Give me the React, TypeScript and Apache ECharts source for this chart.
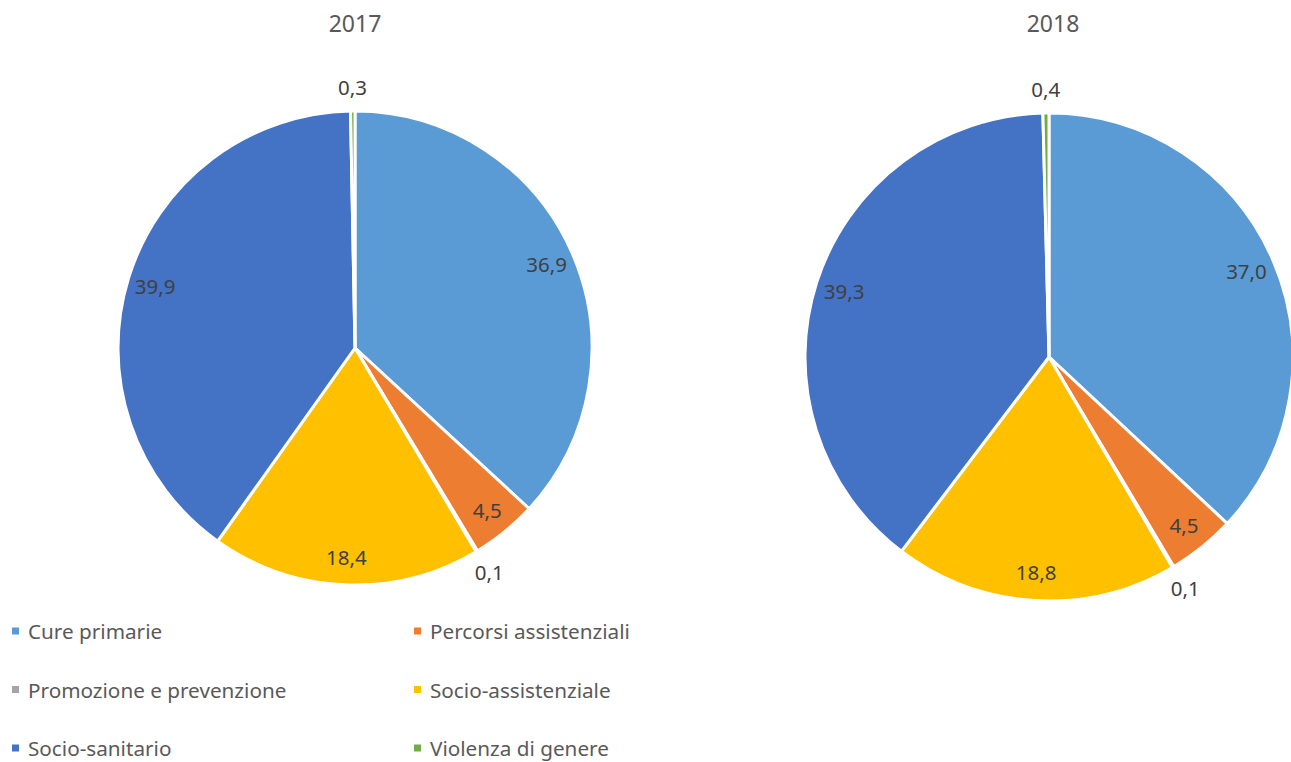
import React, { useEffect, useRef } from "react";
import * as echarts from "echarts";

const categories = [
  "Cure primarie",
  "Percorsi assistenziali",
  "Promozione e prevenzione",
  "Socio-assistenziale",
  "Socio-sanitario",
  "Violenza di genere",
];
const values2017 = [36.9, 4.5, 0.1, 18.4, 39.9, 0.3];
const values2018 = [37.0, 4.5, 0.1, 18.8, 39.3, 0.4];
const years = ["2017", "2018"];
const colors = ["#5B9BD5", "#ED7D31", "#A5A5A5", "#FFC000", "#4472C4", "#70AD47"];
const legendCol1 = [categories[0], categories[2], categories[4]];
const legendCol2 = [categories[1], categories[3], categories[5]];

const FONT = "'Noto Sans', 'Open Sans', sans-serif";
const fmt = (v: number) => v.toFixed(1).replace(".", ",");

function pieSeries(values: number[], center: number[], r: number) {
  const mainData = categories.map((name, i) => ({
    name,
    value: values[i],
    itemStyle: { color: colors[i] },
  }));
  const labelStyle = {
    fontFamily: FONT,
    fontSize: 20.5,
    color: "#404040",
    formatter: (p: any) => fmt(p.value),
  };
  const inner = categories.map((name, i) => ({
    name,
    value: values[i],
    label: { show: values[i] >= 1 },
  }));
  const outer = categories.map((name, i) => ({
    name,
    value: values[i],
    label: { show: values[i] < 1 },
  }));
  return [
    {
      type: "pie",
      center,
      radius: [0, r],
      startAngle: 90,
      clockwise: true,
      data: mainData,
      label: { show: false },
      labelLine: { show: false },
      itemStyle: { borderColor: "#ffffff", borderWidth: 3 },
      emphasis: { disabled: true },
    },
    {
      type: "pie",
      center,
      radius: [r * 0.74, r],
      startAngle: 90,
      clockwise: true,
      silent: true,
      data: inner,
      itemStyle: { color: "transparent", borderWidth: 0 },
      label: { position: "inside", ...labelStyle },
      labelLine: { show: false },
      emphasis: { disabled: true },
    },
    {
      type: "pie",
      center,
      radius: [r + 10, r + 32],
      startAngle: 90,
      clockwise: true,
      silent: true,
      data: outer,
      itemStyle: { color: "transparent", borderWidth: 0 },
      label: { position: "inside", ...labelStyle },
      labelLine: { show: false },
      emphasis: { disabled: true },
    },
  ];
}

export default function App() {
  const ref = useRef<HTMLDivElement>(null);
  useEffect(() => {
    if (!ref.current) return;
    const chart = echarts.init(ref.current, null, { renderer: "svg" });
    const legendBase = {
      orient: "vertical",
      top: 619,
      padding: 0,
      itemWidth: 9,
      itemHeight: 9,
      icon: "rect",
      itemGap: 34.5,
      selectedMode: false,
      textStyle: {
        fontFamily: FONT,
        fontSize: 20.7,
        color: "#595959",
        lineHeight: 24,
        padding: [0, 0, 0, 3],
      },
    };
    chart.setOption({
      animation: false,
      backgroundColor: "#ffffff",
      color: colors,
      graphic: [
        {
          type: "text",
          x: 355,
          y: 23,
          style: {
            text: years[0],
            textAlign: "center",
            textVerticalAlign: "middle",
            fontFamily: FONT,
            fontSize: 23,
            fill: "#595959",
          },
        },
        {
          type: "text",
          x: 1053,
          y: 23,
          style: {
            text: years[1],
            textAlign: "center",
            textVerticalAlign: "middle",
            fontFamily: FONT,
            fontSize: 23,
            fill: "#595959",
          },
        },
      ],
      legend: [
        { ...legendBase, left: 10, data: legendCol1 },
        { ...legendBase, left: 412, data: legendCol2 },
      ],
      series: [
        ...pieSeries(values2017, [355, 348], 237),
        ...pieSeries(values2018, [1049, 357], 244),
      ],
    });
    return () => chart.dispose();
  }, []);
  return (
    <div
      ref={ref}
      style={{ position: "fixed", left: 0, top: 0, width: 1291, height: 762, background: "#fff" }}
    />
  );
}
